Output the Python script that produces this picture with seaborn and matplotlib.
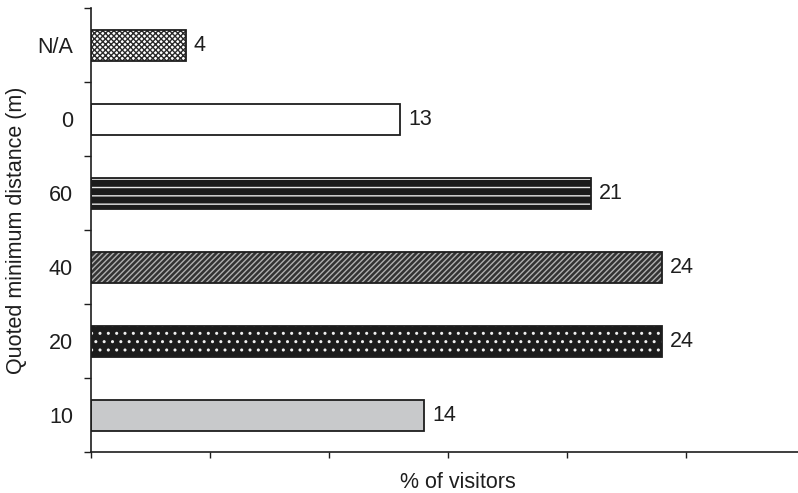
import matplotlib
matplotlib.use("Agg")
import matplotlib.pyplot as plt
from matplotlib.ticker import FixedLocator, MultipleLocator
import seaborn as sns
import pandas as pd
import numpy as np

# Survey results: quoted minimum distance vs share of visitors
distances = ["N/A", "0", "60", "40", "20", "10"]
visitors_pct = [4, 13, 21, 24, 24, 14]

# Fill styles for each bar: (face colour, hatch pattern, hatch colour)
face_colors = ["#ffffff", "#ffffff", "#1c1c1c", "#333333", "#1c1c1c", "#c8c9cb"]
hatches = ["xxxxxx", None, "--", "//////", "..", None]
hatch_colors = ["#2a2a2a", "#2a2a2a", "#e8e8e8", "#b0b0b0", "#f0f0f0", "#2a2a2a"]

FS = 15.5
INK = "#1e1e1e"

sns.set_theme(style="white")
plt.rcParams["font.family"] = ["Liberation Sans", "DejaVu Sans"]
plt.rcParams["hatch.linewidth"] = 1.0

df = pd.DataFrame({"distance": distances, "pct": visitors_pct})

fig = plt.figure(figsize=(7.98, 4.93), dpi=100)
ax = fig.add_axes([0.114, 0.083, 0.886, 0.9])

# Filled / hatched layer
sns.barplot(data=df, y="distance", x="pct", hue="distance", order=distances,
            hue_order=distances, palette=face_colors, width=0.42,
            legend=False, ax=ax, saturation=1, linewidth=0)
for patch, h, hc in zip(ax.patches, hatches, hatch_colors):
    if h:
        patch.set_hatch(h)
        patch.set_edgecolor(hc)
        patch.set_linewidth(0)

# Outline layer
sns.barplot(data=df, y="distance", x="pct", order=distances, width=0.42,
            fill=False, color=INK, linewidth=1.3, ax=ax)
for p in ax.patches[len(distances):]:
    p.set_edgecolor(INK)

# Value labels at the bar ends
ax.bar_label(ax.containers[-1], labels=[str(v) for v in visitors_pct],
             padding=5.5, fontsize=FS, color=INK)

ax.set_xlim(0, 29.7)
ax.set_ylim(5.5, -0.5)
ax.xaxis.set_major_locator(MultipleLocator(5))
ax.set_xticklabels([])
ax.tick_params(axis="x", which="major", direction="out", length=4, width=1,
               color=INK, bottom=True)

ax.yaxis.set_minor_locator(FixedLocator(np.arange(-0.5, 6, 1.0)))
ax.tick_params(axis="y", which="minor", direction="out", length=5, width=1,
               color=INK, left=True)
ax.tick_params(axis="y", which="major", length=0, pad=13, labelsize=FS,
               labelcolor=INK)

for side in ["top", "right"]:
    ax.spines[side].set_visible(False)
for side in ["left", "bottom"]:
    ax.spines[side].set_color(INK)
    ax.spines[side].set_linewidth(1.2)

ax.set_xlabel("% of visitors", fontsize=FS, color=INK)
ax.xaxis.set_label_coords(0.519, -0.045)
ax.set_ylabel("Quoted minimum distance (m)", fontsize=FS, color=INK)
ax.yaxis.set_label_coords(-0.09, 0.5)

fig.savefig("out.png", dpi=100)
